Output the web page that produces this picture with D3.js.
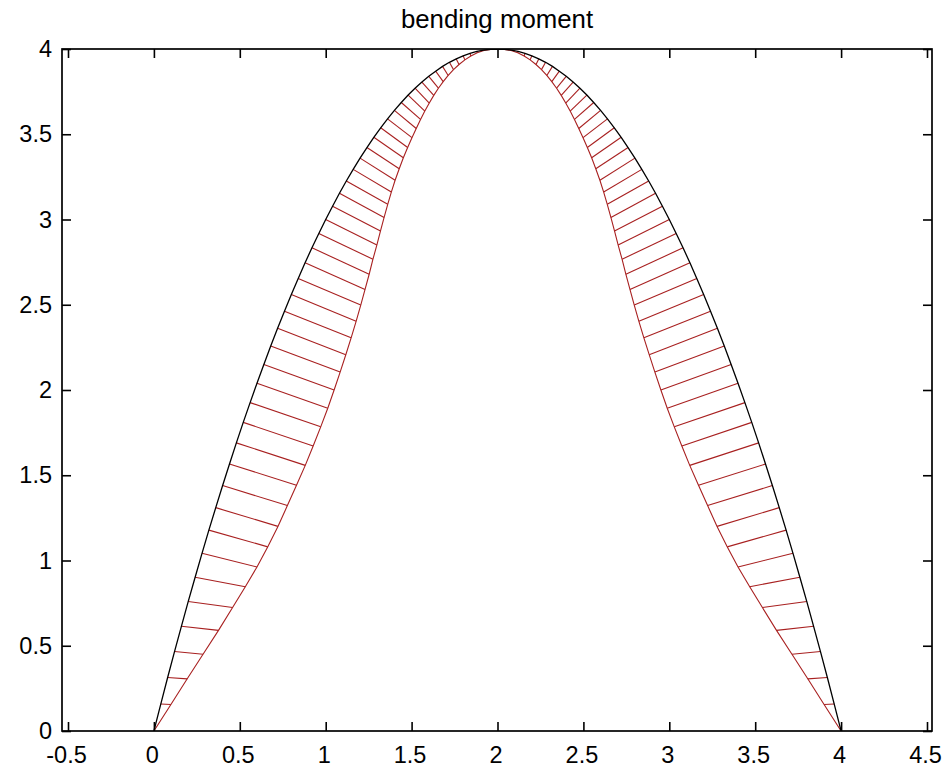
<!DOCTYPE html>
<html>
<head>
<meta charset="utf-8">
<script src="https://cdn.jsdelivr.net/npm/d3@7"></script>
<style>
  html, body { margin: 0; padding: 0; background: #fff; }
  svg { display: block; }
  text { font-family: "Liberation Sans", Arial, Helvetica, sans-serif; fill: #000; }
</style>
</head>
<body>
<svg id="chart" width="944" height="770"></svg>
<script>
// Stations along the member
const xs = [0.00,0.04,0.08,0.12,0.16,0.20,0.24,0.28,0.32,0.36,0.40,0.44,0.48,0.52,0.56,0.60,0.64,0.68,0.72,0.76,
  0.80,0.84,0.88,0.92,0.96,1.00,1.04,1.08,1.12,1.16,1.20,1.24,1.28,1.32,1.36,1.40,1.44,1.48,1.52,1.56,
  1.60,1.64,1.68,1.72,1.76,1.80,1.84,1.88,1.92,1.96,2.00,2.04,2.08,2.12,2.16,2.20,2.24,2.28,2.32,2.36,
  2.40,2.44,2.48,2.52,2.56,2.60,2.64,2.68,2.72,2.76,2.80,2.84,2.88,2.92,2.96,3.00,3.04,3.08,3.12,3.16,
  3.20,3.24,3.28,3.32,3.36,3.40,3.44,3.48,3.52,3.56,3.60,3.64,3.68,3.72,3.76,3.80,3.84,3.88,3.92,3.96,4.00];

// Outer (black) curve height at each station
const moment = [0,0.158,0.314,0.466,0.614,0.760,0.902,1.042,1.178,1.310,1.440,1.566,1.690,1.810,1.926,2.040,2.150,2.258,2.362,2.462,
  2.560,2.654,2.746,2.834,2.918,3.000,3.078,3.154,3.226,3.294,3.360,3.422,3.482,3.538,3.590,3.640,3.686,3.730,3.770,3.806,
  3.840,3.870,3.898,3.922,3.942,3.960,3.974,3.986,3.994,3.998,4.000,3.998,3.994,3.986,3.974,3.960,3.942,3.922,3.898,3.870,
  3.840,3.806,3.770,3.730,3.686,3.640,3.590,3.538,3.482,3.422,3.360,3.294,3.226,3.154,3.078,3.000,2.918,2.834,2.746,2.654,
  2.560,2.462,2.362,2.258,2.150,2.040,1.926,1.810,1.690,1.566,1.440,1.310,1.178,1.042,0.902,0.760,0.614,0.466,0.314,0.158,0];

// Inner (red) curve: end point of each hatch
const redX = [0,0.099,0.194,0.286,0.376,0.458,0.532,0.600,0.663,0.722,0.777,0.830,0.881,0.927,0.971,1.012,1.049,1.084,1.117,1.148,
  1.177,1.204,1.229,1.253,1.275,1.298,1.319,1.340,1.361,1.382,1.404,1.428,1.452,1.477,1.502,1.527,1.552,1.577,1.603,1.629,
  1.656,1.684,1.713,1.744,1.776,1.810,1.845,1.882,1.921,1.960,2.000,2.040,2.079,2.118,2.155,2.190,2.224,2.256,2.287,2.316,
  2.344,2.371,2.397,2.423,2.448,2.473,2.498,2.523,2.548,2.572,2.596,2.618,2.639,2.660,2.681,2.702,2.725,2.747,2.771,2.796,
  2.823,2.852,2.883,2.916,2.951,2.988,3.029,3.073,3.119,3.170,3.223,3.278,3.337,3.400,3.468,3.542,3.624,3.714,3.806,3.901,4.000];
const redY = [0,0.155,0.306,0.450,0.590,0.724,0.846,0.962,1.080,1.200,1.322,1.441,1.558,1.672,1.784,1.893,2.000,2.105,2.207,2.306,
  2.403,2.498,2.590,2.679,2.767,2.851,2.933,3.012,3.089,3.161,3.230,3.298,3.362,3.422,3.480,3.534,3.587,3.636,3.683,3.728,
  3.770,3.809,3.845,3.879,3.909,3.936,3.959,3.978,3.991,3.998,4.000,3.998,3.991,3.978,3.959,3.936,3.909,3.879,3.845,3.809,
  3.770,3.728,3.683,3.636,3.587,3.534,3.480,3.422,3.362,3.298,3.230,3.161,3.089,3.012,2.933,2.851,2.767,2.679,2.590,2.498,
  2.403,2.306,2.207,2.105,2.000,1.893,1.784,1.672,1.558,1.441,1.322,1.200,1.080,0.962,0.846,0.724,0.590,0.450,0.306,0.155,0];

const xTicks = [-0.5,0,0.5,1,1.5,2,2.5,3,3.5,4,4.5];
const yTicks = [0,0.5,1,1.5,2,2.5,3,3.5,4];
const titleText = "bending moment";

const svg = d3.select("#chart");
const frame = { left: 62, right: 932, top: 49, bottom: 731 };
const fontSize = 23.5;
const titleSize = 25.8;
const tickLen = 9;

const x = d3.scaleLinear().domain([-0.5, 4.5]).range([68, 927]);
const y = d3.scaleLinear().domain([0, 4]).range([731, 49]);

svg.append("rect").attr("width", 944).attr("height", 770).attr("fill", "#fff");

svg.append("clipPath").attr("id", "plot-clip")
  .append("rect")
  .attr("x", frame.left).attr("y", frame.top)
  .attr("width", frame.right - frame.left).attr("height", frame.bottom - frame.top);

const plot = svg.append("g").attr("clip-path", "url(#plot-clip)");

const outer = xs.map((v, i) => [v, moment[i]]);
const inner = xs.map((v, i) => [redX[i], redY[i]]);
const line = d3.line().x(d => x(d[0])).y(d => y(d[1]));

// hatching between the two curves
plot.append("g")
  .selectAll("line")
  .data(d3.range(xs.length))
  .join("line")
  .attr("x1", i => x(xs[i])).attr("y1", i => y(moment[i]))
  .attr("x2", i => x(redX[i])).attr("y2", i => y(redY[i]))
  .attr("stroke", "#a82020").attr("stroke-width", 1.1);

plot.append("path").datum(inner)
  .attr("d", line).attr("fill", "none")
  .attr("stroke", "#a82020").attr("stroke-width", 1.1);

plot.append("path").datum(outer)
  .attr("d", line).attr("fill", "none")
  .attr("stroke", "#000").attr("stroke-width", 1.3);

// axes: ticks point inward on all four sides
function styleAxis(g) {
  g.select(".domain").remove();
  g.selectAll(".tick line").attr("stroke", "#000").attr("stroke-width", 1.6);
  g.selectAll(".tick text").attr("font-size", fontSize).attr("fill", "#000")
    .style("font-family", '"Liberation Sans", Arial, Helvetica, sans-serif');
}

const fmt = d => String(d);

svg.append("g").attr("transform", `translate(0,${frame.bottom})`)
  .call(d3.axisBottom(x).tickValues(xTicks).tickFormat(fmt)
    .tickSizeInner(-tickLen).tickSizeOuter(0).tickPadding(15))
  .call(styleAxis)
  .call(g => g.selectAll(".tick text").attr("dx", -2));

svg.append("g").attr("transform", `translate(0,${frame.top})`)
  .call(d3.axisTop(x).tickValues(xTicks).tickFormat("")
    .tickSizeInner(-tickLen).tickSizeOuter(0))
  .call(styleAxis);

svg.append("g").attr("transform", `translate(${frame.left},0)`)
  .call(d3.axisLeft(y).tickValues(yTicks).tickFormat(fmt)
    .tickSizeInner(-tickLen).tickSizeOuter(0).tickPadding(10))
  .call(styleAxis);

svg.append("g").attr("transform", `translate(${frame.right},0)`)
  .call(d3.axisRight(y).tickValues(yTicks).tickFormat("")
    .tickSizeInner(-tickLen).tickSizeOuter(0))
  .call(styleAxis);

// axes box
svg.append("rect")
  .attr("x", frame.left).attr("y", frame.top)
  .attr("width", frame.right - frame.left).attr("height", frame.bottom - frame.top)
  .attr("fill", "none").attr("stroke", "#000").attr("stroke-width", 1.7);

svg.append("text")
  .attr("x", (frame.left + frame.right) / 2).attr("y", 28)
  .attr("text-anchor", "middle")
  .attr("font-size", titleSize)
  .text(titleText);
</script>
</body>
</html>
